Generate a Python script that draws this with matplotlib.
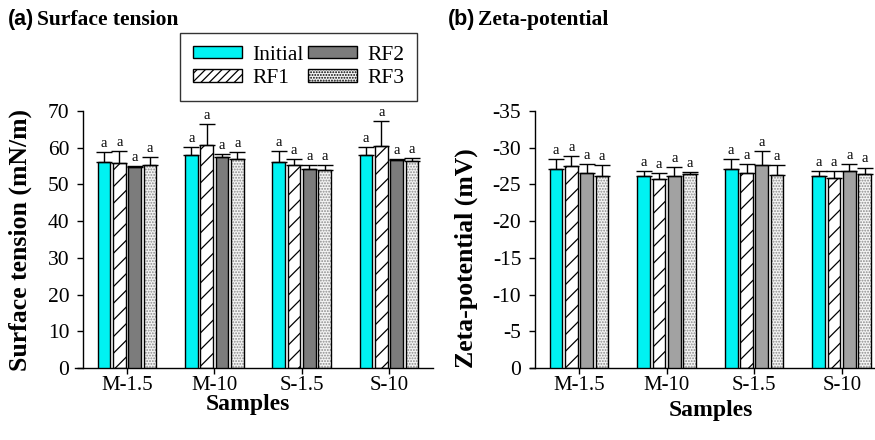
import matplotlib
matplotlib.use("Agg")
import matplotlib.pyplot as plt
import numpy as np
from matplotlib.patches import Patch

categories = ["M-1.5", "M-10", "S-1.5", "S-10"]
series = ["Initial", "RF1", "RF2", "RF3"]

# Surface tension (mN/m)
st_initial = [56.2, 58.1, 56.2, 58.1]
st_rf1 = [55.9, 60.7, 55.4, 60.6]
st_rf2 = [54.7, 57.4, 54.3, 56.7]
st_rf3 = [55.4, 56.9, 53.8, 56.3]
st_err_initial = [2.7, 2.2, 2.8, 2.2]
st_err_rf1 = [3.2, 5.8, 1.4, 6.6]
st_err_rf2 = [0.3, 0.9, 0.9, 0.3]
st_err_rf3 = [2.0, 1.8, 1.6, 0.9]

# Zeta-potential magnitude (mV, negative)
zp_initial = [27.1, 26.1, 27.1, 26.1]
zp_rf1 = [27.5, 25.7, 26.5, 25.9]
zp_rf2 = [26.6, 26.1, 27.6, 26.8]
zp_rf3 = [26.1, 26.4, 26.3, 26.4]
zp_err_initial = [1.3, 0.7, 1.3, 0.7]
zp_err_rf1 = [1.4, 0.8, 1.3, 0.9]
zp_err_rf2 = [1.2, 1.3, 1.9, 1.0]
zp_err_rf3 = [1.5, 0.3, 1.4, 0.9]

letters = "a"

st_ticks = [0, 10, 20, 30, 40, 50, 60, 70]
zp_ticks = [0, 5, 10, 15, 20, 25, 30, 35]
zp_ticklabels = ["0", "-5", "-10", "-15", "-20", "-25", "-30", "-35"]

SERIF = "Liberation Serif"
SANS = "Liberation Sans"
plt.rcParams["font.family"] = SERIF
plt.rcParams["hatch.linewidth"] = 0.9

W, H = 875, 440
fig = plt.figure(figsize=(W / 100, H / 100), dpi=100)

step = 0.175
width = 0.145
offsets = [-1.5 * step, -0.5 * step, 0.5 * step, 1.5 * step]


def draw_panel(ax, vals, errs, gray, xlim, ylim, yticks, yticklabels):
    x = np.arange(len(categories))
    styles = [
        dict(color="#00F2F2", hatch=None, hcol=None),
        dict(color="white", hatch="//", hcol="black"),
        dict(color=gray, hatch=None, hcol=None),
        dict(color="#F4F4F4", hatch="......", hcol="#8a8a8a"),
    ]
    for i, (v, e, s) in enumerate(zip(vals, errs, styles)):
        xs = x + offsets[i]
        if s["hatch"]:
            ax.bar(xs, v, width, color=s["color"], hatch=s["hatch"],
                   edgecolor=s["hcol"], linewidth=0, zorder=2)
            ax.bar(xs, v, width, fill=False, edgecolor="black",
                   linewidth=1.0, zorder=3)
        else:
            ax.bar(xs, v, width, color=s["color"], edgecolor="black",
                   linewidth=1.0, zorder=3)
        ax.errorbar(xs, v, yerr=[np.zeros(len(v)), e], fmt="none",
                    ecolor="black", elinewidth=1.0, capsize=5.5,
                    capthick=1.0, zorder=4)
        for xi, vi, ei in zip(xs, v, e):
            ax.annotate(letters, (xi, vi + ei), xytext=(0, 1.5),
                        textcoords="offset points", ha="center",
                        va="bottom", fontsize=10.5, family=SERIF,
                        annotation_clip=False)
    ax.set_xlim(*xlim)
    ax.set_ylim(*ylim)
    for sp in ["top", "right"]:
        ax.spines[sp].set_visible(False)
    ax.spines["left"].set_position(("data", -0.5))
    ax.spines["left"].set_linewidth(1.0)
    ax.spines["bottom"].set_linewidth(1.0)
    ax.set_yticks(yticks)
    ax.set_yticklabels(yticklabels, fontsize=15.5, family=SERIF)
    ax.set_xticks(x)
    ax.set_xticklabels(categories, fontsize=15, family=SERIF)
    ax.tick_params(axis="both", direction="out", length=4, width=1.0,
                   pad=6)
    ax.tick_params(axis="x", pad=2)
    ax.patch.set_visible(False)


ax1 = fig.add_axes([75 / W, 72 / H, (433 - 75) / W, 257 / H])
draw_panel(ax1,
           [st_initial, st_rf1, st_rf2, st_rf3],
           [st_err_initial, st_err_rf1, st_err_rf2, st_err_rf3],
           "#7c7c7c", (-0.596, 3.505), (0, 70), st_ticks,
           [str(t) for t in st_ticks])

ax2 = fig.add_axes([530 / W, 72 / H, (875 - 530) / W, 257 / H])
draw_panel(ax2,
           [zp_initial, zp_rf1, zp_rf2, zp_rf3],
           [zp_err_initial, zp_err_rf1, zp_err_rf2, zp_err_rf3],
           "#a2a2a2", (-0.56, 3.38), (0, 35), zp_ticks, zp_ticklabels)

# Titles
fig.text(8 / W, 1 - 20 / H, "(a)", family=SANS, weight="bold",
         fontsize=15.5, va="center", ha="left")
fig.text(37 / W, 1 - 20 / H, "Surface tension", family=SERIF,
         weight="bold", fontsize=15.5, va="center", ha="left")
fig.text(448 / W, 1 - 20 / H, "(b)", family=SANS, weight="bold",
         fontsize=15.5, va="center", ha="left")
fig.text(478 / W, 1 - 20 / H, "Zeta-potential", family=SERIF,
         weight="bold", fontsize=15.5, va="center", ha="left")

# Axis labels
fig.text(20 / W, 1 - 240 / H, "Surface tension (mN/m)", rotation=90,
         family=SERIF, weight="bold", fontsize=18.5, va="center",
         ha="center")
fig.text(466 / W, 1 - 258 / H, "Zeta-potential (mV)", rotation=90,
         family=SERIF, weight="bold", fontsize=18.5, va="center",
         ha="center")
fig.text(248 / W, 1 - 404 / H, "Samples", family=SERIF, weight="bold",
         fontsize=17, va="center", ha="center")
fig.text(711 / W, 1 - 410 / H, "Samples", family=SERIF, weight="bold",
         fontsize=17, va="center", ha="center")

# Legend
handles = [
    Patch(facecolor="#00F2F2", edgecolor="black", linewidth=1.0),
    Patch(facecolor="white", edgecolor="black", hatch="////", linewidth=1.0),
    Patch(facecolor="#7c7c7c", edgecolor="black", linewidth=1.0),
    Patch(facecolor="#F4F4F4", edgecolor="black", hatch="......",
          linewidth=1.0),
]
leg = fig.legend(handles, series, loc="upper left",
                 bbox_to_anchor=(180 / W, 1 - 33 / H), ncol=2,
                 frameon=True, fancybox=False, edgecolor="black",
                 prop={"family": SERIF, "size": 15.5}, handlelength=2.3,
                 handleheight=0.5, columnspacing=0.2, handletextpad=0.45,
                 borderpad=0.6, labelspacing=0.2, borderaxespad=0)
leg.get_frame().set_linewidth(1.0)

fig.savefig("out.png", dpi=100)
